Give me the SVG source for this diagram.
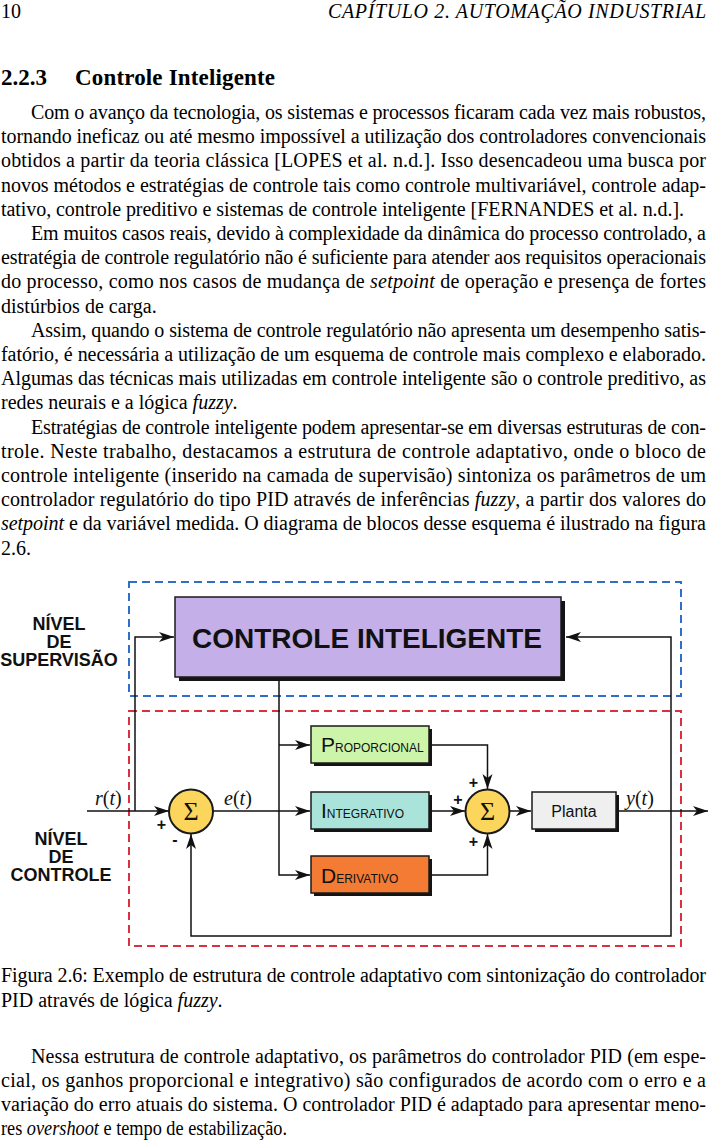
<svg xmlns="http://www.w3.org/2000/svg" width="709" height="1142" viewBox="0 0 709 1142">
<style>
.body{font-family:"Liberation Serif","Times New Roman",serif;font-size:20px;fill:#000}
.it{font-style:italic}
.head{font-family:"Liberation Serif","Times New Roman",serif;font-size:23px;font-weight:bold}
.lbl{font-family:"Liberation Sans",Arial,sans-serif;font-weight:bold;font-size:18px;text-anchor:middle;fill:#111}
.shadow{fill:#141414}
.box{stroke:#1a1a1a;stroke-width:1.5}
.conn{fill:none;stroke:#111;stroke-width:1.5}
.sum{fill:#fcd65c;stroke:#1a1a1a;stroke-width:2}
.sig{font-family:"Liberation Serif","Times New Roman",serif;font-size:26px;text-anchor:middle;fill:#111}
.pm{font-family:"Liberation Sans",Arial,sans-serif;font-weight:bold;font-size:16px;text-anchor:middle;fill:#111}
.math{font-family:"Liberation Serif","Times New Roman",serif;font-size:20px;fill:#111}
.pid{font-family:"Liberation Sans",Arial,sans-serif;fill:#111}
.big{font-size:21px}
.sm{font-size:12px}
</style>
<defs>
<marker id="ah" markerUnits="userSpaceOnUse" markerWidth="16" markerHeight="12" refX="15" refY="5" orient="auto">
<path d="M0,0 L15,5 L0,10 L4,5 Z" fill="#111"/>
</marker>
</defs>
<rect width="709" height="1142" fill="#fff"/>

<g id="page-text">
<text class="body" x="1" y="18">10</text>
<text class="body it" x="328" y="18" textLength="378" lengthAdjust="spacing">CAPÍTULO 2.  AUTOMAÇÃO INDUSTRIAL</text>
<text class="head" x="1" y="85">2.2.3</text>
<text class="head" x="75" y="85" textLength="200" lengthAdjust="spacing">Controle Inteligente</text>

<text class="body" x="31" y="119" textLength="675" lengthAdjust="spacing">Com o avanço da tecnologia, os sistemas e processos ficaram cada vez mais robustos,</text>
<text class="body" x="1" y="143.2" textLength="705" lengthAdjust="spacing">tornando ineficaz ou até mesmo impossível a utilização dos controladores convencionais</text>
<text class="body" x="1" y="167.4" textLength="705" lengthAdjust="spacing">obtidos a partir da teoria clássica [LOPES et al. n.d.]. Isso desencadeou uma busca por</text>
<text class="body" x="1" y="191.6" textLength="705" lengthAdjust="spacing">novos métodos e estratégias de controle tais como controle multivariável, controle adap-</text>
<text class="body" x="1" y="215.8" textLength="683" lengthAdjust="spacing">tativo, controle preditivo e sistemas de controle inteligente [FERNANDES et al. n.d.].</text>

<text class="body" x="31" y="240" textLength="675" lengthAdjust="spacing">Em muitos casos reais, devido à complexidade da dinâmica do processo controlado, a</text>
<text class="body" x="1" y="264.2" textLength="705" lengthAdjust="spacing">estratégia de controle regulatório não é suficiente para atender aos requisitos operacionais</text>
<text class="body" x="1" y="288.4" textLength="705" lengthAdjust="spacing">do processo, como nos casos de mudança de <tspan class="it">setpoint</tspan> de operação e presença de fortes</text>
<text class="body" x="1" y="312.6">distúrbios de carga.</text>

<text class="body" x="31" y="336.8" textLength="675" lengthAdjust="spacing">Assim, quando o sistema de controle regulatório não apresenta um desempenho satis-</text>
<text class="body" x="1" y="361" textLength="705" lengthAdjust="spacing">fatório, é necessária a utilização de um esquema de controle mais complexo e elaborado.</text>
<text class="body" x="1" y="385.2" textLength="705" lengthAdjust="spacing">Algumas das técnicas mais utilizadas em controle inteligente são o controle preditivo, as</text>
<text class="body" x="1" y="409.4">redes neurais e a lógica <tspan class="it">fuzzy</tspan>.</text>

<text class="body" x="31" y="433.6" textLength="675" lengthAdjust="spacing">Estratégias de controle inteligente podem apresentar-se em diversas estruturas de con-</text>
<text class="body" x="1" y="457.8" textLength="705" lengthAdjust="spacing">trole. Neste trabalho, destacamos a estrutura de controle adaptativo, onde o bloco de</text>
<text class="body" x="1" y="482" textLength="705" lengthAdjust="spacing">controle inteligente (inserido na camada de supervisão) sintoniza os parâmetros de um</text>
<text class="body" x="1" y="506.2" textLength="705" lengthAdjust="spacing">controlador regulatório do tipo PID através de inferências <tspan class="it">fuzzy</tspan>, a partir dos valores do</text>
<text class="body" x="1" y="530.4" textLength="705" lengthAdjust="spacing"><tspan class="it">setpoint</tspan> e da variável medida. O diagrama de blocos desse esquema é ilustrado na figura</text>
<text class="body" x="1" y="554.6">2.6.</text>

<text class="body" x="1" y="982" textLength="705" lengthAdjust="spacing">Figura 2.6: Exemplo de estrutura de controle adaptativo com sintonização do controlador</text>
<text class="body" x="1" y="1007">PID através de lógica <tspan class="it">fuzzy</tspan>.</text>

<text class="body" x="31" y="1063" textLength="675" lengthAdjust="spacing">Nessa estrutura de controle adaptativo, os parâmetros do controlador PID (em espe-</text>
<text class="body" x="1" y="1087" textLength="705" lengthAdjust="spacing">cial, os ganhos proporcional e integrativo) são configurados de acordo com o erro e a</text>
<text class="body" x="1" y="1111" textLength="705" lengthAdjust="spacing">variação do erro atuais do sistema. O controlador PID é adaptado para apresentar meno-</text>
<text class="body" x="1" y="1135" textLength="286" lengthAdjust="spacingAndGlyphs">res <tspan class="it">overshoot</tspan> e tempo de estabilização.</text>
</g>

<g id="level-supervisao">
<rect x="129" y="582" width="552" height="114" fill="none" stroke="#2f6fc5" stroke-width="2" stroke-dasharray="8 5"/>
<text class="lbl" x="59" y="630">NÍVEL</text>
<text class="lbl" x="59" y="648">DE</text>
<text class="lbl" x="59" y="666">SUPERVISÃO</text>
</g>

<g id="level-controle">
<rect x="129" y="711" width="552" height="235" fill="none" stroke="#d9323f" stroke-width="2" stroke-dasharray="8 5"/>
<text class="lbl" x="61" y="845">NÍVEL</text>
<text class="lbl" x="61" y="863">DE</text>
<text class="lbl" x="61" y="881">CONTROLE</text>
</g>

<g id="connectors">
<path class="conn" d="M87,811 H169" marker-end="url(#ah)"/>
<path class="conn" d="M135,811 V637 H174" marker-end="url(#ah)"/>
<path class="conn" d="M213,811 H310" marker-end="url(#ah)"/>
<path class="conn" d="M279,681 V875 H310" marker-end="url(#ah)"/>
<path class="conn" d="M279,745 H310" marker-end="url(#ah)"/>
<path class="conn" d="M432,745 H487.5 V789" marker-end="url(#ah)"/>
<path class="conn" d="M432,811 H465" marker-end="url(#ah)"/>
<path class="conn" d="M432,875 H487.5 V834" marker-end="url(#ah)"/>
<path class="conn" d="M510,811 H531" marker-end="url(#ah)"/>
<path class="conn" d="M618,811 H708" marker-end="url(#ah)"/>
<path class="conn" d="M671,811 V637 H566" marker-end="url(#ah)"/>
<path class="conn" d="M671,811 V936 H191 V834" marker-end="url(#ah)"/>
</g>

<g id="controle-inteligente">
<rect class="shadow" x="179" y="601" width="386" height="80"/>
<rect class="box" x="175" y="597" width="386" height="80" fill="#c4afe8"/>
<text x="367" y="648" text-anchor="middle" font-family="Liberation Sans, Arial, sans-serif" font-weight="bold" font-size="28" fill="#111">CONTROLE INTELIGENTE</text>
</g>

<g id="proporcional">
<rect class="shadow" x="314" y="729" width="118" height="37"/>
<rect class="box" x="311" y="726" width="118" height="37" fill="#cdf5a9"/>
<text class="pid" x="321" y="752"><tspan class="big">P</tspan><tspan class="sm">ROPORCIONAL</tspan></text>
</g>

<g id="integrativo">
<rect class="shadow" x="314" y="795" width="118" height="37"/>
<rect class="box" x="311" y="792" width="118" height="37" fill="#a9e3da"/>
<text class="pid" x="321" y="818"><tspan class="big">I</tspan><tspan class="sm">NTEGRATIVO</tspan></text>
</g>

<g id="derivativo">
<rect class="shadow" x="314" y="859" width="118" height="37"/>
<rect class="box" x="311" y="856" width="118" height="37" fill="#f47b33"/>
<text class="pid" x="321" y="883"><tspan class="big">D</tspan><tspan class="sm">ERIVATIVO</tspan></text>
</g>

<g id="somador-1">
<circle class="sum" cx="191" cy="811.5" r="22"/>
<text class="sig" x="191" y="820">Σ</text>
<text class="pm" x="161.5" y="830">+</text>
<text class="pm" x="175" y="845">-</text>
</g>

<g id="somador-2">
<circle class="sum" cx="487.5" cy="811.5" r="22"/>
<text class="sig" x="487.5" y="820">Σ</text>
<text class="pm" x="473.5" y="788">+</text>
<text class="pm" x="458" y="804.5">+</text>
<text class="pm" x="473.5" y="847">+</text>
</g>

<g id="planta">
<rect class="shadow" x="535" y="795" width="84" height="37"/>
<rect class="box" x="532" y="792" width="84" height="37" fill="#efefef"/>
<text x="574" y="816.5" text-anchor="middle" font-family="Liberation Sans, Arial, sans-serif" font-size="16" fill="#111">Planta</text>
</g>

<g id="signal-labels">
<text class="math" x="95" y="805"><tspan class="it">r</tspan>(<tspan class="it">t</tspan>)</text>
<text class="math" x="224" y="805"><tspan class="it">e</tspan>(<tspan class="it">t</tspan>)</text>
<text class="math" x="626" y="805"><tspan class="it">y</tspan>(<tspan class="it">t</tspan>)</text>
</g>
</svg>
